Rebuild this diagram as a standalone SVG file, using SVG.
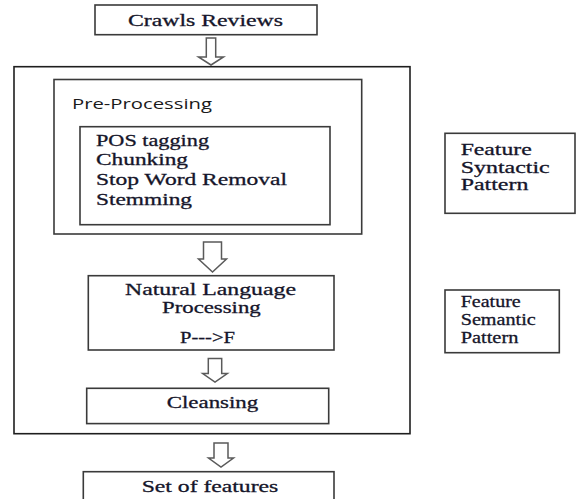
<svg xmlns="http://www.w3.org/2000/svg" width="576" height="499" viewBox="0 0 576 499">
  <style>
    .box { fill: #ffffff; stroke: #3a3a3a; stroke-width: 1.6; }
    .frame { fill: none; stroke: #1e1e1e; stroke-width: 1.6; }
    .arrow { fill: #ffffff; stroke: #5a5a5a; stroke-width: 1.5; stroke-linejoin: miter; }
    .t { font-family: 'Liberation Serif', serif; font-size: 17px; fill: #15152a; stroke: #15152a; stroke-width: 0.3; }
    .s { font-family: 'Open Sans', sans-serif; font-size: 15px; fill: #1a1a1a; }
  </style>

  <!-- background -->
  <rect x="0" y="0" width="576" height="499" fill="#ffffff"/>

  <!-- outer processing frame -->
  <g id="processing-frame">
    <rect class="frame" x="14" y="66.7" width="396" height="367"/>
  </g>

  <g id="crawls-reviews">
    <rect class="box" x="95" y="5" width="222" height="29.7"/>
    <text class="t" font-family="Liberation Serif" x="128" y="26" textLength="155" lengthAdjust="spacingAndGlyphs">Crawls Reviews</text>
  </g>

  <g id="pre-processing">
    <rect class="box" x="54" y="79.5" width="307.7" height="154.5"/>
    <text class="s" font-family="Open Sans" x="72" y="109" textLength="140" lengthAdjust="spacingAndGlyphs">Pre-Processing</text>
  </g>

  <g id="pre-processing-steps">
    <rect class="box" x="80" y="126.7" width="250" height="98"/>
    <text class="t" font-family="Liberation Serif" x="96" y="146" textLength="113" lengthAdjust="spacingAndGlyphs">POS tagging</text>
    <text class="t" font-family="Liberation Serif" x="96" y="165.3" textLength="92" lengthAdjust="spacingAndGlyphs">Chunking</text>
    <text class="t" font-family="Liberation Serif" x="96" y="185" textLength="191" lengthAdjust="spacingAndGlyphs">Stop Word Removal</text>
    <text class="t" font-family="Liberation Serif" x="96" y="204.7" textLength="96" lengthAdjust="spacingAndGlyphs">Stemming</text>
  </g>

  <g id="nlp">
    <rect class="box" x="88.3" y="275.7" width="245.7" height="74.3"/>
    <text class="t" font-family="Liberation Serif" x="125" y="295" textLength="171" lengthAdjust="spacingAndGlyphs">Natural Language</text>
    <text class="t" font-family="Liberation Serif" x="162" y="313" textLength="98.7" lengthAdjust="spacingAndGlyphs">Processing</text>
    <text class="t" font-family="Liberation Serif" x="180" y="343" textLength="55" lengthAdjust="spacingAndGlyphs">P---&gt;F</text>
  </g>

  <g id="cleansing">
    <rect class="box" x="86.7" y="388.3" width="242" height="35.3"/>
    <text class="t" font-family="Liberation Serif" x="166.7" y="408.3" textLength="91.6" lengthAdjust="spacingAndGlyphs">Cleansing</text>
  </g>

  <g id="set-of-features">
    <rect class="box" x="83.3" y="471.7" width="250.7" height="40"/>
    <text class="t" font-family="Liberation Serif" x="141.7" y="491.7" textLength="136.6" lengthAdjust="spacingAndGlyphs">Set of features</text>
  </g>

  <g id="feature-syntactic-pattern">
    <rect class="box" x="445" y="133.3" width="130" height="80"/>
    <text class="t" font-family="Liberation Serif" x="460.7" y="155" textLength="71" lengthAdjust="spacingAndGlyphs">Feature</text>
    <text class="t" font-family="Liberation Serif" x="460.7" y="172.7" textLength="89" lengthAdjust="spacingAndGlyphs">Syntactic</text>
    <text class="t" font-family="Liberation Serif" x="460.7" y="190.3" textLength="67.7" lengthAdjust="spacingAndGlyphs">Pattern</text>
  </g>

  <g id="feature-semantic-pattern">
    <rect class="box" x="445" y="290" width="114.3" height="62.7"/>
    <text class="t" font-family="Liberation Serif" x="460.7" y="307.3" textLength="60" lengthAdjust="spacingAndGlyphs">Feature</text>
    <text class="t" font-family="Liberation Serif" x="460.7" y="325" textLength="75" lengthAdjust="spacingAndGlyphs">Semantic</text>
    <text class="t" font-family="Liberation Serif" x="460.7" y="342.7" textLength="57.7" lengthAdjust="spacingAndGlyphs">Pattern</text>
  </g>

  <!-- hollow block arrows between stages -->
  <g id="connectors">
    <path class="arrow" d="M206.3,38 H215.7 V57 H223.5 L211,65 L198.5,57 H206.3 Z"/>
    <path class="arrow" d="M203.5,242 H221.5 V259 H226.5 L212.5,272 L198.5,259 H203.5 Z"/>
    <path class="arrow" d="M208.3,358.5 H221.7 V373.5 H227.3 L215,382 L202.7,373.5 H208.3 Z"/>
    <path class="arrow" d="M214,443 H228 V458 H233.5 L221,467 L208.5,458 H214 Z"/>
  </g>
</svg>
